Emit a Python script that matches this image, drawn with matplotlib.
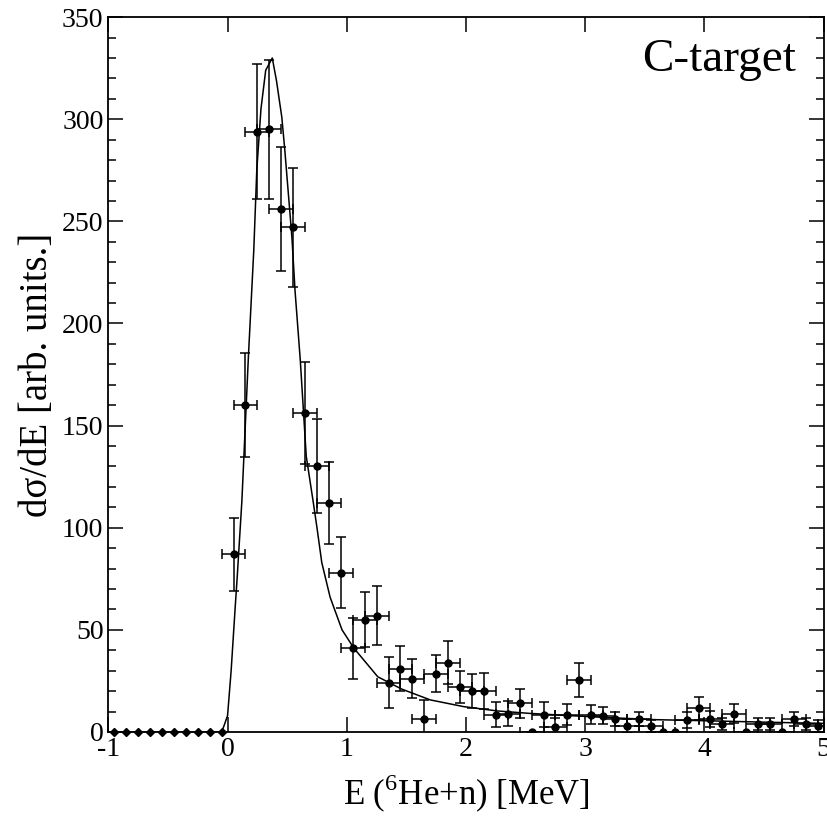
import matplotlib
matplotlib.use("Agg")
import matplotlib.pyplot as plt
import matplotlib.transforms as mtransforms
from matplotlib.ticker import MultipleLocator

plt.rcParams['font.family'] = ['Liberation Serif', 'DejaVu Serif']
plt.rcParams['mathtext.fontset'] = 'custom'
plt.rcParams['mathtext.rm'] = 'Liberation Serif'
plt.rcParams['axes.unicode_minus'] = False

# empty bins below threshold
e_neg = [-0.95, -0.85, -0.75, -0.65, -0.55, -0.45, -0.35, -0.25, -0.15, -0.05]
y_neg = [0, 0, 0, 0, 0, 0, 0, 0, 0, 0]

# measured points (bin centres, counts, errors)
e_data = [0.05, 0.15, 0.25, 0.35, 0.45, 0.55, 0.65, 0.75, 0.85, 0.95,
          1.05, 1.15, 1.25, 1.35, 1.45, 1.55, 1.65, 1.75, 1.85, 1.95,
          2.05, 2.15, 2.25, 2.35, 2.45, 2.55, 2.65, 2.75, 2.85, 2.95,
          3.05, 3.15, 3.25, 3.35, 3.45, 3.55, 3.65, 3.75, 3.85, 3.95,
          4.05, 4.15, 4.25, 4.35, 4.45, 4.55, 4.65, 4.75, 4.85, 4.95]
y_data = [87, 160, 294, 295, 256, 247, 156, 130, 112, 78,
          41, 55, 57, 24, 31, 26, 6.5, 28.5, 34, 22,
          20, 20, 8.5, 9, 14, 0, 8.5, 2.6, 8.5, 25.5,
          8.5, 8, 6.5, 3, 6.5, 3, 0, 0, 6, 11.5,
          6.5, 4, 9, 0, 4, 4, 0, 6.5, 4, 3]
y_err = [18, 25.5, 33, 34, 30.5, 29, 25, 23, 20, 17.5,
         15, 13.5, 14.5, 12.5, 11, 9.5, 9, 9, 10.5, 8,
         8.5, 9, 6, 6, 7, 0, 6, 4, 5, 8.5,
         4.5, 4, 3.5, 3.5, 3.5, 3, 0, 0, 4, 5.5,
         4, 3, 4.5, 0, 3, 3, 0, 3.5, 3, 3]
x_err = 0.1

# calculated line
e_fit = [-1.0, -0.05, -0.03, 0.0, 0.03, 0.065, 0.08, 0.12, 0.175, 0.22,
         0.245, 0.28, 0.32, 0.375, 0.41, 0.455, 0.48, 0.54, 0.566, 0.61,
         0.66, 0.72, 0.75, 0.79, 0.86, 0.96, 1.06, 1.26, 1.46, 1.70,
         1.98, 2.26, 2.53, 2.87, 3.2, 3.6, 4.0, 4.5, 5.0]
y_fit = [0, 0, 3, 8, 30, 62, 75, 113, 184, 236,
         275, 305, 324, 330, 319, 301, 285, 242, 216, 182,
         135, 112, 100, 83, 66, 50, 41, 27, 21, 15.7,
         12.4, 10.3, 9.1, 8, 7, 6, 5.5, 4.8, 4.2]

fig = plt.figure(figsize=(8.27, 8.16), dpi=100)
ax = fig.add_axes([0.131, 0.103, 0.865, 0.876])

ax.plot(e_fit, y_fit, color='black', lw=1.1)
ax.errorbar(e_data, y_data, yerr=y_err, xerr=x_err, fmt='o', color='black',
            ms=5, elinewidth=1.1, capsize=3.5, capthick=1.1)
ax.plot(e_neg, y_neg, 'D', color='black', ms=4, clip_on=False)

ax.set_xlim(-1, 5)
ax.set_ylim(0, 350)
ax.xaxis.set_major_locator(MultipleLocator(1))
ax.yaxis.set_major_locator(MultipleLocator(50))
ax.yaxis.set_minor_locator(MultipleLocator(10))
ax.tick_params(which='both', direction='in', top=True, right=True, width=1.1,
               labelsize=20)
ax.tick_params(which='major', length=11)
ax.tick_params(which='minor', length=6)
for s in ax.spines.values():
    s.set_linewidth(1.3)

# nudge the corner "0" a bit left so it doesn't run into "-1"
fig.canvas.draw()
lbl0 = ax.get_yticklabels()[0]
lbl0.set_transform(lbl0.get_transform() +
                   mtransforms.ScaledTranslation(-5 / 72, -3 / 72, fig.dpi_scale_trans))

ax.set_xlabel(r'E ($^{6}$He+n) [MeV]', fontsize=25, labelpad=8)
ax.set_ylabel('dσ/dE [arb. units.]', fontsize=28, labelpad=4)
ax.text(4.12, 329, 'C-target', fontsize=34, ha='center', va='center')

fig.savefig('out.png', dpi=100)
